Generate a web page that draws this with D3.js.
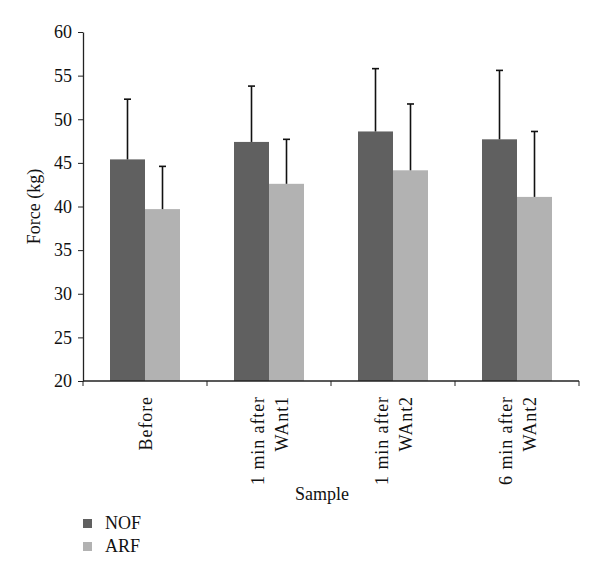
<!DOCTYPE html>
<html>
<head>
<meta charset="utf-8">
<script src="https://cdn.jsdelivr.net/npm/d3@7"></script>
<style>
    body { margin: 0; background: #fff; }
    svg text { font-family: "Liberation Serif", "DejaVu Serif", serif; fill: #111; }
    .axis path, .axis line { stroke: #222; }
    .lbl { letter-spacing: 0.9px; }
</style>
</head>
<body>
<script>
// data
var samples = [["Before"], ["1 min after", "WAnt1"], ["1 min after", "WAnt2"], ["6 min after", "WAnt2"]];
var seriesNames = ["NOF", "ARF"];
var nofMean = [45.4, 47.4, 48.6, 47.7];
var nofErr = [6.9, 6.4, 7.2, 7.9];
var arfMean = [39.7, 42.6, 44.15, 41.1];
var arfErr = [4.9, 5.1, 7.6, 7.5];
var yTicks = [20, 25, 30, 35, 40, 45, 50, 55, 60];
var colors = ["#606060", "#b2b2b2"];

var width = 600, height = 579;
var margin = {top: 32, right: 21, bottom: 198, left: 83};
var plotW = width - margin.left - margin.right,
    plotH = height - margin.top - margin.bottom;
var fs = "18px";

var svg = d3.select("body").append("svg")
        .attr("width", width)
        .attr("height", height);

var g = svg.append("g")
        .attr("transform", "translate(" + margin.left + "," + margin.top + ")");

var x0 = d3.scaleBand().domain(d3.range(samples.length)).range([0, plotW]).paddingInner(0).paddingOuter(0);
var x1 = d3.scaleBand().domain(seriesNames).range([27, x0.bandwidth() - 27]);
var y = d3.scaleLinear().domain([20, 60]).range([plotH, 0]);

var rows = samples.map(function (s, i) {
    return [
        {key: "NOF", mean: nofMean[i], err: nofErr[i]},
        {key: "ARF", mean: arfMean[i], err: arfErr[i]}
    ];
});

// bars
var groups = g.selectAll(".grp")
        .data(rows)
        .enter().append("g")
        .attr("class", "grp")
        .attr("transform", function (d, i) {
            return "translate(" + x0(i) + ",0)";
        });

groups.selectAll("rect")
        .data(function (d) { return d; })
        .enter().append("rect")
        .attr("x", function (d) { return x1(d.key); })
        .attr("y", function (d) { return y(d.mean); })
        .attr("width", x1.bandwidth())
        .attr("height", function (d) { return y(20) - y(d.mean); })
        .attr("fill", function (d, i) { return colors[i]; });

// error bars (upper only)
var eb = groups.selectAll(".eb")
        .data(function (d) { return d; })
        .enter().append("g")
        .attr("class", "eb")
        .attr("stroke", "#111")
        .attr("stroke-width", 1.6);
eb.append("line")
        .attr("x1", function (d) { return x1(d.key) + x1.bandwidth() / 2; })
        .attr("x2", function (d) { return x1(d.key) + x1.bandwidth() / 2; })
        .attr("y1", function (d) { return y(d.mean); })
        .attr("y2", function (d) { return y(d.mean + d.err); });
eb.append("line")
        .attr("x1", function (d) { return x1(d.key) + x1.bandwidth() / 2 - 3.5; })
        .attr("x2", function (d) { return x1(d.key) + x1.bandwidth() / 2 + 3.5; })
        .attr("y1", function (d) { return y(d.mean + d.err); })
        .attr("y2", function (d) { return y(d.mean + d.err); });

// y axis
var yAxis = g.append("g")
        .attr("class", "axis")
        .call(d3.axisLeft(y).tickValues(yTicks).tickSize(5).tickSizeOuter(0).tickPadding(6));
yAxis.selectAll("text")
        .style("font-size", fs);
yAxis.select(".domain").attr("stroke-width", 1.3);

// x axis: line + ticks at band boundaries
var xAxis = g.append("g")
        .attr("class", "axis")
        .attr("transform", "translate(0," + plotH + ")");
xAxis.append("line")
        .attr("x1", 0).attr("x2", plotW)
        .attr("stroke-width", 1.3);
xAxis.selectAll(".tk")
        .data(d3.range(samples.length + 1))
        .enter().append("line")
        .attr("class", "tk")
        .attr("x1", function (d) { return d * x0.step(); })
        .attr("x2", function (d) { return d * x0.step(); })
        .attr("y1", 0).attr("y2", 5);

// rotated category labels
var lineGap = 24;
xAxis.selectAll(".lbl")
        .data(samples)
        .enter().append("text")
        .attr("class", "lbl")
        .attr("transform", function (d, i) {
            var cx = x0(i) + x0.bandwidth() / 2;
            return "translate(" + cx + ",15) rotate(-90)";
        })
        .attr("text-anchor", "end")
        .style("font-size", fs)
        .each(function (d) {
            var t = d3.select(this);
            var off = -(d.length - 1) * lineGap / 2 + 7;
            d.forEach(function (line, k) {
                t.append("tspan")
                        .attr("x", 0)
                        .attr("y", off + k * lineGap)
                        .text(line);
            });
        });

// axis titles
svg.append("text")
        .attr("transform", "translate(40," + (margin.top + plotH / 2) + ") rotate(-90)")
        .attr("text-anchor", "middle")
        .style("font-size", fs)
        .text("Force (kg)");

svg.append("text")
        .attr("x", 322)
        .attr("y", 500)
        .attr("text-anchor", "middle")
        .style("font-size", fs)
        .text("Sample");

// legend
var legend = svg.selectAll(".leg")
        .data(seriesNames)
        .enter().append("g")
        .attr("class", "leg")
        .attr("transform", function (d, i) {
            return "translate(83," + (519 + i * 23) + ")";
        });
legend.append("rect")
        .attr("width", 9).attr("height", 9)
        .attr("fill", function (d, i) { return colors[i]; });
legend.append("text")
        .attr("x", 22)
        .attr("y", 10)
        .style("font-size", fs)
        .text(function (d) { return d; });
</script>
</body>
</html>
